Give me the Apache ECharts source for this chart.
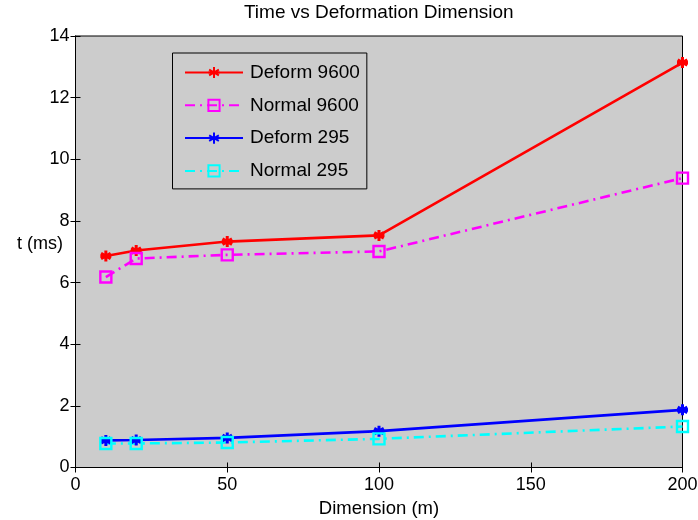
<!DOCTYPE html>
<html>
<head>
<meta charset="utf-8">
<script src="https://cdn.jsdelivr.net/npm/echarts@6/dist/echarts.min.js"></script>
<style>html,body{margin:0;padding:0;background:#fff}#c{width:698px;height:520px}</style>
</head>
<body>
<div id="c"></div>
<script>
var dims = [10, 20, 50, 100, 200];
var deform9600 = [6.86, 7.04, 7.33, 7.53, 13.14];
var normal9600 = [6.18, 6.78, 6.90, 7.01, 9.39];
var deform295 = [0.88, 0.89, 0.96, 1.18, 1.87];
var normal295 = [0.78, 0.78, 0.81, 0.93, 1.33];
var seriesNames = ['Deform 9600', 'Normal 9600', 'Deform 295', 'Normal 295'];
var xTicks = [0, 50, 100, 150, 200];
var yTicks = [0, 2, 4, 6, 8, 10, 12, 14];

function pairs(ys) { return dims.map(function (d, i) { return [d, ys[i]]; }); }

var FONT = 'Liberation Sans, Arial, sans-serif';
var star = 'path://M0,-10L0,10M-8.7,-5L8.7,5M-8.7,5L8.7,-5M-10,0L10,0';
var dashDot = [10, 5, 2, 5];

function starSeries(name, ys, color) {
  return {
    name: name, type: 'line', data: pairs(ys), xAxisIndex: 0, yAxisIndex: 0,
    symbol: star, symbolSize: 11,
    lineStyle: { color: color, width: 2.6, type: 'solid' },
    itemStyle: { color: color, borderColor: color, borderWidth: 3 },
    emphasis: { disabled: true }, animation: false
  };
}
function rectSeries(name, ys, color) {
  return {
    name: name, type: 'line', data: pairs(ys), xAxisIndex: 0, yAxisIndex: 0,
    symbol: 'rect', symbolSize: 11,
    lineStyle: { color: color, width: 2.6, type: dashDot },
    itemStyle: { color: 'rgba(0,0,0,0)', borderColor: color, borderWidth: 2.4 },
    emphasis: { disabled: true }, animation: false
  };
}

var chart = echarts.init(document.getElementById('c'), null, { renderer: 'canvas' });
var axisCommon = {
  type: 'value',
  axisLine: { show: true, lineStyle: { color: '#000', width: 1 } },
  axisTick: { show: true, inside: true, length: 5, lineStyle: { color: '#000' } },
  splitLine: { show: false }
};
chart.setOption({
  animation: false,
  backgroundColor: '#fff',
  textStyle: { fontFamily: FONT },
  title: [{
    text: 'Time vs Deformation Dimension',
    left: 378.75, top: 3, padding: 0, textAlign: 'center',
    textStyle: { fontFamily: FONT, fontSize: 19, fontWeight: 'normal', color: '#000' }
  }, {
    text: 't (ms)',
    left: 63, top: 235, padding: 0, textAlign: 'right',
    textStyle: { fontFamily: FONT, fontSize: 18, fontWeight: 'normal', color: '#000' }
  }],
  grid: {
    left: 75.5, right: 15.5, top: 36, bottom: 52.5, show: true,
    containLabel: false, outerBoundsMode: 'none',
    backgroundColor: '#cccccc', borderColor: '#000', borderWidth: 1
  },
  legend: {
    orient: 'vertical', left: 172.5, top: 53,
    padding: [9.5, 7, 8, 11.5],
    backgroundColor: '#cccccc', borderColor: '#000', borderWidth: 1,
    itemWidth: 58, itemHeight: 14, itemGap: 12.8,
    data: seriesNames,
    textStyle: { fontFamily: FONT, fontSize: 19, color: '#000', lineHeight: 20, padding: [0, 0, 0, 2] }
  },
  xAxis: [
    Object.assign({}, axisCommon, {
      min: xTicks[0], max: xTicks[xTicks.length - 1], interval: 50, position: 'bottom',
      name: 'Dimension (m)', nameLocation: 'middle', nameGap: 32, nameMoveOverlap: false,
      nameTextStyle: { fontFamily: FONT, fontSize: 18.5, color: '#000' },
      axisLabel: { fontFamily: FONT, fontSize: 18, color: '#000', margin: 9 }
    }),
    Object.assign({}, axisCommon, {
      min: xTicks[0], max: xTicks[xTicks.length - 1], interval: 50, position: 'top',
      axisLabel: { show: false }
    })
  ],
  yAxis: [
    Object.assign({}, axisCommon, {
      min: yTicks[0], max: yTicks[yTicks.length - 1], interval: 2, position: 'left',
      axisLabel: { fontFamily: FONT, fontSize: 18, color: '#000', margin: 6 }
    }),
    Object.assign({}, axisCommon, {
      min: yTicks[0], max: yTicks[yTicks.length - 1], interval: 2, position: 'right',
      axisLabel: { show: false }
    })
  ],
  series: [
    starSeries(seriesNames[0], deform9600, '#ff0000'),
    rectSeries(seriesNames[1], normal9600, '#ff00ff'),
    starSeries(seriesNames[2], deform295, '#0000ff'),
    rectSeries(seriesNames[3], normal295, '#00ffff')
  ]
});
</script>
</body>
</html>
